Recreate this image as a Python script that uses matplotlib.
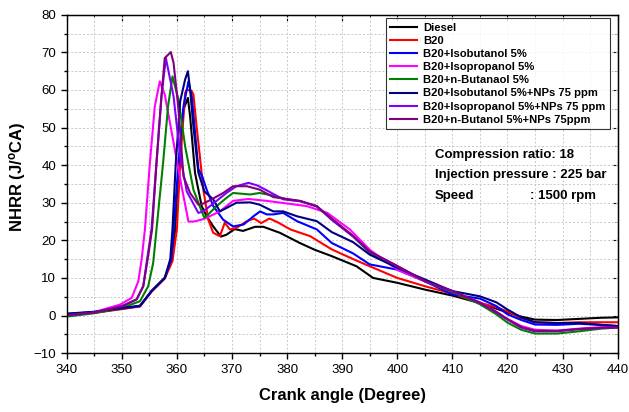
import matplotlib
matplotlib.use("Agg")
import matplotlib.pyplot as plt
from matplotlib.ticker import MultipleLocator

plt.rcParams["font.family"] = ["Liberation Sans", "DejaVu Sans"]
plt.rcParams["mathtext.fontset"] = "custom"
plt.rcParams["mathtext.rm"] = "Liberation Sans"
plt.rcParams["mathtext.bf"] = "Liberation Sans:bold"

# 曲軸角 (deg) 與 NHRR (J/°CA)
diesel_x = [340, 345, 350, 353.3, 355.4, 357.8, 359, 359.7, 360.3, 361.2, 362, 362.4, 363.3, 364.5,
            365.4, 366.6, 368, 369, 370.5, 372, 374.2, 375.7, 378.7, 382.3, 385, 388.1, 392.6,
            395.6, 400, 405, 410, 415, 418, 420, 422.5, 425, 429, 433, 437, 440]
diesel_y = [0.3, 0.8, 1.8, 2.5, 6.5, 10, 14.9, 22.9, 39, 54.8, 57.9, 53, 37.9, 29.1,
            26.4, 23.7, 21, 21.5, 23, 22.5, 23.6, 23.6, 22, 19.3, 17.5, 15.8, 13.1,
            10, 8.7, 6.9, 5.3, 3.3, 1.8, 0.8, -0.3, -1.1, -1.2, -0.9, -0.6, -0.5]

b20_x = [340, 345, 350, 353.3, 355.4, 357.8, 359.2, 360, 360.6, 361.5, 361.8, 362.7, 363, 363.6,
         364.2, 364.8, 365.7, 366.6, 367.8, 368.7, 369.6, 370.8, 372.7, 374, 375.3, 376.8, 378.3,
         380.6, 384.2, 388.1, 392, 395, 400, 405, 410, 415, 418, 420, 422.3, 425, 429, 433, 437, 440]
b20_y = [0.2, 0.7, 1.7, 2.4, 6.3, 9.8, 14.5, 22.9, 40.6, 59.2, 60.1, 59.7, 58.8, 50,
         42, 33.5, 25.5, 22, 21.1, 24.7, 22.9, 23.3, 25.1, 25.8, 24.6, 25.8, 24.8,
         22.9, 21.1, 17.6, 15, 13.1, 10, 7.8, 5.8, 3.4, 2.2, 1.1, -0.6, -1.8, -2.0, -1.8, -1.8, -1.8]

isobut_x = [340, 345, 350, 353.3, 355.4, 357.8, 359, 359.4, 360.3, 361.2, 362.1, 362.7, 363.9, 364.6,
            365.4, 366.6, 368.4, 370.2, 372.1, 373.9, 375.1, 376.3, 377.5, 379.3, 381.8, 385.4,
            388.1, 392, 395, 400, 405, 410, 415, 418, 420, 422.5, 425, 429, 433, 437, 440]
isobut_y = [0.4, 0.9, 1.9, 2.5, 6.5, 10, 15, 22.9, 40.6, 55.7, 62.3, 58.3, 39, 37,
            33.5, 29.1, 25.5, 23.7, 24.2, 26.4, 27.7, 26.9, 26.9, 27.3, 25.1, 22.9,
            19.3, 16.5, 13.6, 12.2, 9.1, 5.6, 4.5, 2.5, 0.3, -1.2, -2.4, -2.5, -2.2, -2.5, -2.8]

isoprop_x = [340, 345, 349.7, 351.8, 353, 353.6, 354.2, 355.1, 356, 356.9, 357.8, 359.3, 360.9,
             362.1, 363, 364.5, 365.4, 367.8, 370.2, 373, 376.3, 380, 383.6, 387.3, 391.4, 395,
             400, 405, 410, 415, 418, 420, 422.5, 425, 429, 433, 437, 440]
isoprop_y = [0.2, 0.9, 2.9, 4.7, 9.1, 14.9, 22.9, 40.6, 55.7, 62.3, 58.8, 46.8, 34,
             25, 25, 25.5, 26, 27.7, 30.5, 31, 30.5, 29.8, 29.1, 27.3, 22.9, 17.5,
             12.2, 9.1, 6.3, 3.5, 1, -0.9, -2.8, -3.8, -4, -3.5, -3.1, -3.0]

nbut_x = [340, 345, 350, 353.3, 354.8, 355.7, 356.3, 357.5, 358.4, 359.2, 360.3, 361.5, 363, 364.5,
          365, 365.7, 367.2, 369, 370.2, 373.3, 375, 377.5, 380, 382.4, 385.4, 388.1, 392, 395,
          400, 405, 410, 415, 418, 420, 422.5, 425, 429, 433, 437, 440]
nbut_y = [-0.3, 0.6, 2.0, 3.8, 7.8, 14, 22.9, 40.6, 55.7, 63.6, 57.4, 45, 33.5, 27.7,
          26, 26.9, 29.1, 31.3, 32.6, 32.2, 32.6, 31.9, 30.9, 30.4, 29.1, 25.5, 21, 16.7,
          13.1, 9.1, 6.3, 3, 0.3, -1.9, -3.8, -4.8, -4.8, -4.2, -3.5, -3.2]

isobut_np_x = [340, 345, 350, 353.3, 355.4, 357.8, 358.8, 359.2, 359.8, 360.6, 361.5, 362, 362.4, 363,
               363.9, 365, 366.6, 367.8, 369, 370.8, 373.3, 375, 377.5, 379.3, 381.8, 385.4,
               388.1, 392, 395, 400, 405, 410, 415, 418, 420, 422.5, 425, 429, 433, 437, 440]
isobut_np_y = [0.5, 1.0, 2.0, 2.6, 6.5, 10, 15, 22.9, 40.6, 57, 62.8, 65, 60.1, 50.3,
               38, 33, 30.9, 27.7, 28.6, 30, 30.1, 29.5, 27.7, 27.7, 26.4, 25.1,
               22.2, 19.5, 16.2, 12.7, 9.6, 6.5, 5.1, 3.5, 1.6, -0.5, -1.8, -2, -2, -2.5, -2.8]

isoprop_np_x = [340, 345, 350, 352.7, 353.9, 354.5, 355.4, 356.3, 357.2, 358, 359.4, 360.6, 361.8,
                363.9, 364.8, 366, 369, 370.8, 373, 374.6, 376.3, 379.3, 382.4, 385.4, 388.1, 392,
                395, 400, 405, 410, 415, 418, 420, 422.5, 425, 429, 433, 437, 440]
isoprop_np_y = [0, 0.8, 2.5, 4.3, 7.8, 14, 22.9, 40.6, 58.3, 68.5, 58.3, 42.4, 33,
                27.3, 27.7, 29.1, 32.6, 34.4, 35.3, 34.6, 33.3, 30.9, 30.4, 29.1, 25.5, 21,
                17, 13.1, 9.1, 6.5, 3.4, 0.8, -1.1, -3.2, -4.2, -4.2, -3.6, -3.3, -3.2]

nbut_np_x = [340, 345, 350, 352.7, 353.9, 354.6, 355.5, 356.3, 357.2, 357.8, 358.9, 359.4, 360.3,
             361.2, 362.4, 363.9, 364.8, 366.3, 368.4, 370.2, 372.7, 375, 377.5, 380, 382.4,
             385.4, 388.1, 392, 395, 400, 405, 410, 415, 418, 420, 422.5, 425, 429, 433, 437, 440]
nbut_np_y = [0.1, 0.8, 2.4, 4.3, 7.8, 14, 22.9, 40.6, 58.3, 68.5, 70.1, 67.2, 54.8,
             37, 32.6, 29.5, 29.8, 30.9, 32.6, 34.4, 34.4, 33.5, 31.5, 31, 30.5,
             29, 25.8, 21.2, 17, 13.2, 9.2, 6.5, 3.4, 0.9, -1.0, -3.1, -4.1, -4.1, -3.6, -3.3, -3.2]

labels = ["Diesel", "B20", "B20+Isobutanol 5%", "B20+Isopropanol 5%", "B20+n-Butanaol 5%",
          "B20+Isobutanol 5%+NPs 75 ppm", "B20+Isopropanol 5%+NPs 75 ppm",
          "B20+n-Butanol 5%+NPs 75ppm"]
colors = ["#000000", "#FF0000", "#0000FF", "#FF00FF", "#008000", "#000080", "#8000FF", "#800080"]
series = [(diesel_x, diesel_y), (b20_x, b20_y), (isobut_x, isobut_y), (isoprop_x, isoprop_y),
          (nbut_x, nbut_y), (isobut_np_x, isobut_np_y), (isoprop_np_x, isoprop_np_y),
          (nbut_np_x, nbut_np_y)]

fig = plt.figure(figsize=(6.29, 4.12), dpi=100)
ax = fig.add_axes([0.106, 0.143, 0.876, 0.821])

for (x, y), c, lab in zip(series, colors, labels):
    ax.plot(x, y, color=c, lw=1.5, label=lab)

ax.set_xlim(340, 440)
ax.set_ylim(-10, 80)
ax.xaxis.set_major_locator(MultipleLocator(10))
ax.xaxis.set_minor_locator(MultipleLocator(5))
ax.yaxis.set_major_locator(MultipleLocator(10))
ax.yaxis.set_minor_locator(MultipleLocator(5))
ax.grid(True, which="both", ls=(0, (2, 2)), color="#c8c8c8", lw=0.7)
ax.set_axisbelow(True)

ax.tick_params(which="both", direction="out", labelsize=9.5, width=1)
ax.tick_params(which="major", length=4)
ax.tick_params(which="minor", length=2.5)
for s in ax.spines.values():
    s.set_linewidth(1.0)

# 上、右框線的內向刻度
top = ax.secondary_xaxis("top")
top.xaxis.set_major_locator(MultipleLocator(10))
top.xaxis.set_minor_locator(MultipleLocator(5))
top.tick_params(which="both", direction="in", labeltop=False)
top.tick_params(which="major", length=4)
top.tick_params(which="minor", length=2.5)
right = ax.secondary_yaxis("right")
right.yaxis.set_major_locator(MultipleLocator(10))
right.yaxis.set_minor_locator(MultipleLocator(5))
right.tick_params(which="both", direction="in", labelright=False)
right.tick_params(which="major", length=4)
right.tick_params(which="minor", length=2.5)

ax.set_xlabel("Crank angle (Degree)", fontsize=12, fontweight="bold", labelpad=9)
ax.set_ylabel(r"NHRR (J/$\mathbf{^{o}}$CA)", fontsize=12, fontweight="bold")
ax.yaxis.set_label_coords(-0.07, 0.52)

leg = ax.legend(loc="upper left", bbox_to_anchor=(0.579, 0.99),
                prop={"weight": "bold", "size": 8.1}, frameon=True, fancybox=False,
                handlelength=2.4, handletextpad=0.5, labelspacing=0.28, borderpad=0.4,
                borderaxespad=0)
leg.get_frame().set_edgecolor("black")
leg.get_frame().set_linewidth(0.8)

# 試驗條件
ax_w = 0.876 * 629
tx = (435 - 66.7) / ax_w
tkw = dict(transform=ax.transAxes, fontsize=9.5, fontweight="bold", va="center", ha="left")
ax.text(tx, (353 - 155) / 338, "Compression ratio: 18", **tkw)
ax.text(tx, (353 - 175) / 338, "Injection pressure : 225 bar", **tkw)
ax.text(tx, (353 - 196) / 338, "Speed", **tkw)
ax.text((530 - 66.7) / ax_w, (353 - 196) / 338, ": 1500 rpm", **tkw)

fig.savefig("out.png", dpi=100)
